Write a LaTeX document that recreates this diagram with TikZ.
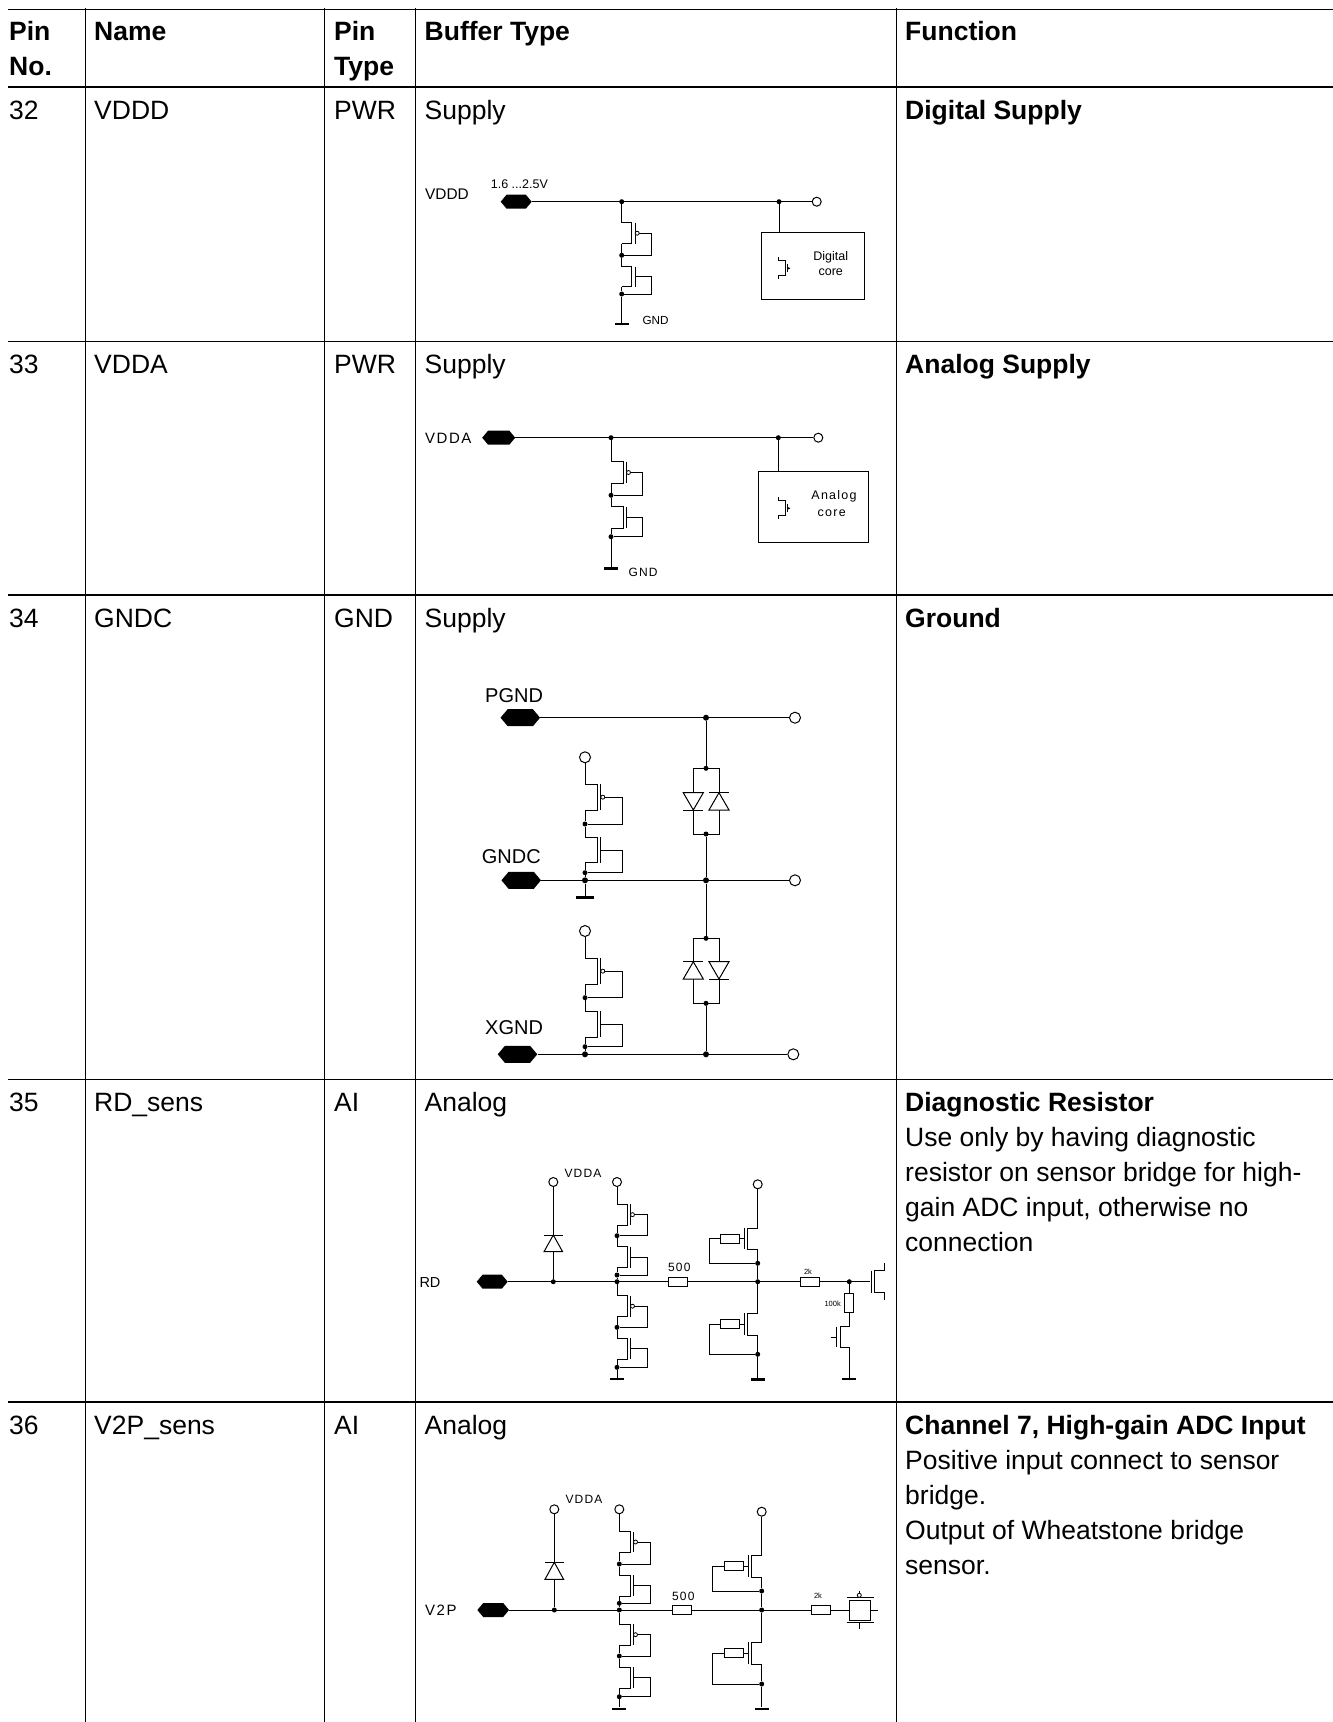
\documentclass[tikz,border=0pt]{standalone}
\usepackage{fontspec}
\setmainfont{Liberation Sans}
\newfontfamily\widefont[LetterSpace=10.0]{Liberation Sans}
\usetikzlibrary{shapes.symbols}
\tikzset{
  rule/.style={line width=1.4pt},
  wire/.style={line width=1pt},
  cell/.style={anchor=base west,inner sep=0pt,align=left,yshift=-0.8pt,font=\fontsize{26.5}{35}\selectfont},
  headcell/.style={cell,font=\fontsize{26.5}{35}\selectfont\bfseries},
  labbig/.style={anchor=base west,inner sep=0pt,font=\fontsize{20}{22}\selectfont},
  labmid/.style={anchor=base west,inner sep=0pt,font=\fontsize{15}{17}\widefont},
  labsmall/.style={anchor=base west,inner sep=0pt,font=\fontsize{12}{14}\widefont},
  labcore/.style={anchor=base,inner sep=0pt,font=\fontsize{12.5}{14}\selectfont},
  labtiny/.style={anchor=base,inner sep=0pt,font=\fontsize{7.5}{9}\selectfont},
  pad/.style={shape=signal,signal to=east and west,signal pointer angle=100,fill=black,inner sep=0pt,minimum height=14pt},
  open/.style={circle,draw,line width=1pt,fill=white,inner sep=0pt,minimum size=9pt},
  jdot/.style={circle,fill=black,inner sep=0pt,minimum size=5pt},
  bubble/.style={circle,draw,line width=0.8pt,fill=white,inner sep=0pt,minimum size=4pt},
  gbar/.style={fill=black,inner sep=0pt,minimum width=14pt,minimum height=2.4pt},
  res/.style={draw,line width=1pt,fill=white,inner sep=0pt,minimum width=19pt,minimum height=9pt},
  corebox/.style={draw,line width=1pt,inner sep=0pt},
}
\newcommand{\fw}{11}
\newcommand{\nfet}[6]{
  \coordinate (#1s) at (#2,#3);
  \coordinate (#1d) at (#2,#4);
  \draw[wire] (#1s) -- (#2+\fw,#3) -- (#2+\fw,#4) -- (#1d);
  \draw[wire] (#2+\fw+3.5,#3) -- (#2+\fw+3.5,#4);
  \node[jdot] (#1t) at (#2,#6) {};
  \draw[wire] (#2+\fw+3.5,{(#3+#4)/2}) -- (#5,{(#3+#4)/2}) -- (#5,#6) -- (#1t);
}
\newcommand{\pfet}[6]{
  \nfet{#1}{#2}{#3}{#4}{#5}{#6}
  \node[bubble] (#1b) at (#2+\fw+5.5,{(#3+#4)/2}) {};
}
\newcommand{\clampfet}[7]{
  \coordinate (#1s) at (#2,#3);
  \coordinate (#1d) at (#2,#4);
  \draw[wire] (#1s) -- (#2-10.4,#3) -- (#2-10.4,#4) -- (#1d);
  \draw[wire] (#2-13.4,#3) -- (#2-13.4,#4);
  \node[res] (#1r) at (#5,{(#3+#4)/2}) {};
  \node[jdot] (#1t) at (#2,#7) {};
  \draw[wire] (#2-13.4,{(#3+#4)/2}) -- (#1r);
  \draw[wire] (#1r) -- (#6,{(#3+#4)/2}) -- (#6,#7) -- (#1t);
}
\newcommand{\diode}[4]{
  \draw[wire,fill=white] (#1-#4,#2) -- (#1+#4,#2) -- (#1,#3) -- cycle;
  \draw[wire] (#1-#4,#3) -- (#1+#4,#3);
}
\newcommand{\corefet}[2]{
  \draw[wire] (#1,#2) -- (#1,#2+3.3) -- (#1+6.7,#2+3.3) -- (#1+6.7,#2+18) -- (#1,#2+18) -- (#1,#2+21.5);
  \draw[wire] (#1+9,#2+7) -- (#1+9,#2+15);
  \fill (#1+10.5,#2+11) circle[radius=1.2pt];
}
\begin{document}
\begin{tikzpicture}[x=1pt,y=-1pt]
\useasboundingbox (0,0) rectangle (1333,1722);
\draw[rule](8,9.3)--(1333,9.3);
\draw[rule](8,87)--(1333,87);
\draw[rule](8,341.5)--(1333,341.5);
\draw[rule](8,595)--(1333,595);
\draw[rule](8,1079.5)--(1333,1079.5);
\draw[rule](8,1402)--(1333,1402);
\draw[rule](85.5,8)--(85.5,1722);
\draw[rule](324.5,8)--(324.5,1722);
\draw[rule](415.5,8)--(415.5,1722);
\draw[rule](896.7,8)--(896.7,1722);
%
\node[headcell] (hpin) at (9,74.5) {Pin\\No.};
\node[headcell] (hname) at (94,39.5) {Name};
\node[headcell] (htype) at (334,74.5) {Pin\\Type};
\node[headcell] (hbuf) at (424.5,39.5) {Buffer Type};
\node[headcell] (hfun) at (905,39.5) {Function};
%
\node[cell] (pin32) at (9,118.5) {32};
\node[cell] (name32) at (94,118.5) {VDDD};
\node[cell] (type32) at (334,118.5) {PWR};
\node[cell] (buf32) at (424.5,118.5) {Supply};
\node[headcell] (fun32) at (905,118.5) {Digital Supply};
\node[cell] (pin33) at (9,373) {33};
\node[cell] (name33) at (94,373) {VDDA};
\node[cell] (type33) at (334,373) {PWR};
\node[cell] (buf33) at (424.5,373) {Supply};
\node[headcell] (fun33) at (905,373) {Analog Supply};
\node[cell] (pin34) at (9,626.5) {34};
\node[cell] (name34) at (94,626.5) {GNDC};
\node[cell] (type34) at (334,626.5) {GND};
\node[cell] (buf34) at (424.5,626.5) {Supply};
\node[headcell] (fun34) at (905,626.5) {Ground};
\node[cell] (pin35) at (9,1110.7) {35};
\node[cell] (name35) at (94,1110.7) {RD\_sens};
\node[cell] (type35) at (334,1110.7) {AI};
\node[cell] (buf35) at (424.5,1110.7) {Analog};
\node[headcell] (fun35) at (905,1110.7) {Diagnostic Resistor};
\node[cell] (txt35) at (905,1250.7) {Use only by having diagnostic\\resistor on sensor bridge for high-\\gain ADC input, otherwise no\\connection};
\node[cell] (pin36) at (9,1433.5) {36};
\node[cell] (name36) at (94,1433.5) {V2P\_sens};
\node[cell] (type36) at (334,1433.5) {AI};
\node[cell] (buf36) at (424.5,1433.5) {Analog};
\node[headcell] (fun36) at (905,1433.5) {Channel 7, High-gain ADC Input};
\node[cell] (txt36) at (905,1573.5) {Positive input connect to sensor\\bridge.\\Output of Wheatstone bridge\\sensor.};
%
\renewcommand{\fw}{10}
\node[labmid,font=\fontsize{15.4}{17}\selectfont] (laba) at (425,199.3) {VDDD};
\node[labcore,anchor=base west] (volta) at (490.7,188) {1.6 ...2.5V};
\node[pad,minimum width=31pt] (pada) at (516.2,201.7) {};
\node[open] (opa) at (816.7,201.7) {};
\node[jdot] (ja) at (621.7,201.7) {};
\node[jdot] (jb) at (779,201.7) {};
\draw[wire] (pada) -- (opa);
\pfet{pa}{621.7}{222.7}{243.7}{651.7}{255.3}
\nfet{na}{621.7}{266.7}{286.7}{651.7}{294}
\node[gbar] (ga) at (621.7,324) {};
\draw[wire] (ja) -- (pas);
\draw[wire] (pad) -- (pat) -- (nas);
\draw[wire] (nad) -- (nat) -- (ga);
\node[labsmall,font=\fontsize{11.7}{14}\selectfont] (gnda) at (642.3,324) {GND};
\node[corebox,minimum width=103pt,minimum height=66.7pt] (corea) at (812.5,265.7) {};
\draw[wire] (jb) -- (jb|-corea.north);
\corefet{778.3}{257.3}
\node[labcore] (diga) at (830.7,260.7) {Digital};
\node[labcore] (cora) at (830.7,275.7) {core};
%
\node[labmid] (labb) at (425,443.3) {VDDA};
\node[pad,minimum width=33pt] (padb) at (498.7,437.7) {};
\node[open] (opb) at (818.3,437.7) {};
\node[jdot] (jc) at (611,437.7) {};
\node[jdot] (jd) at (778.3,437.7) {};
\draw[wire] (padb) -- (opb);
\renewcommand{\fw}{12}
\pfet{pb}{611}{461.7}{483.3}{642.7}{495.3}
\nfet{nb}{611}{506.7}{528.3}{642.7}{536.7}
\node[gbar] (gb) at (611,568.3) {};
\draw[wire] (jc) -- (pbs);
\draw[wire] (pbd) -- (pbt) -- (nbs);
\draw[wire] (nbd) -- (nbt) -- (gb);
\node[labsmall] (gndb) at (628.3,576) {GND};
\node[corebox,minimum width=109.3pt,minimum height=71pt] (coreb) at (813.6,506.8) {};
\draw[wire] (jd) -- (jd|-coreb.north);
\corefet{778.3}{497.3}
\node[labcore,font=\fontsize{12.5}{14}\widefont] (anab) at (834,499.3) {Analog};
\node[labcore,font=\fontsize{12.5}{14}\widefont] (corb) at (831.7,516.7) {core};
%
\tikzset{open/.append style={minimum size=11pt}}
\renewcommand{\fw}{12.3}
\node[labbig] (labc) at (485,702.7) {PGND};
\node[pad,minimum width=39.5pt,minimum height=17pt] (padc) at (520.3,717.7) {};
\node[open] (opc) at (795,717.7) {};
\node[jdot,minimum size=6pt] (je) at (706,717.7) {};
\draw[wire] (padc) -- (opc);
\node[jdot] (jf) at (706,768.3) {};
\node[jdot] (jg) at (706,834) {};
\draw[wire] (je) -- (jf);
\draw[wire] (693.3,768.3) rectangle (719,834);
\diode{693.3}{792.7}{810}{10}
\diode{719}{810}{792.7}{10}
%
\node[labbig] (labd) at (481.7,863.3) {GNDC};
\node[pad,minimum width=39.5pt,minimum height=17pt] (padd) at (521.2,880.3) {};
\node[open] (opd) at (795,880.3) {};
\node[jdot,minimum size=6pt] (jh) at (585,880.3) {};
\node[jdot,minimum size=6pt] (ji) at (706,880.3) {};
\draw[wire] (padd) -- (opd);
\draw[wire] (jg) -- (ji);
\node[open] (ope) at (585,757.3) {};
\pfet{pc}{585}{784.3}{810}{622.7}{824}
\nfet{nc}{585}{837.3}{862.7}{622.7}{872.7}
\node[gbar,minimum width=18pt] (gc) at (585,897.3) {};
\draw[wire] (ope) -- (pcs);
\draw[wire] (pcd) -- (pct) -- (ncs);
\draw[wire] (ncd) -- (nct) -- (jh) -- (gc);
%
\node[labbig] (labe) at (485,1034) {XGND};
\node[pad,minimum width=39.5pt,minimum height=17pt] (pade) at (517.5,1054.3) {};
\node[open] (opf) at (793.3,1054.3) {};
\node[jdot,minimum size=6pt] (jj) at (585,1054.3) {};
\node[jdot,minimum size=6pt] (jk) at (706,1054.3) {};
\draw[wire] (pade) -- (opf);
\node[jdot] (jl) at (706,938.3) {};
\node[jdot] (jm) at (706,1003.3) {};
\draw[wire] (ji) -- (jl);
\draw[wire] (jm) -- (jk);
\draw[wire] (693.3,938.3) rectangle (719,1003.3);
\diode{693.3}{979}{961.7}{10}
\diode{719}{961.7}{979}{10}
\node[open] (opg) at (585,931) {};
\pfet{pd}{585}{958.3}{984}{622.7}{997.7}
\nfet{nd}{585}{1011}{1037.3}{622.7}{1046.7}
\draw[wire] (opg) -- (pds);
\draw[wire] (pdd) -- (pdt) -- (nds);
\draw[wire] (ndd) -- (ndt) -- (jj);
%
\tikzset{open/.append style={minimum size=9pt}}
\renewcommand{\fw}{10}
\node[labmid,font=\fontsize{14.5}{17}\selectfont] (labf) at (419.3,1287.3) {RD};
\node[pad,minimum width=31pt] (padf) at (492.2,1281.7) {};
\node[jdot] (jn) at (553.3,1281.7) {};
\node[jdot] (jo) at (617,1281.7) {};
\node[jdot] (jp) at (757.7,1281.7) {};
\node[jdot] (jq) at (849.3,1281.7) {};
\node[open] (oph) at (553.3,1182) {};
\draw[wire] (oph) -- (jn);
\diode{553.3}{1251.7}{1235}{9.3}
\node[labsmall] (vdf) at (564.3,1177.7) {VDDA};
\node[open] (opi) at (617,1182) {};
\pfet{pe}{617}{1204.3}{1225}{647.7}{1235.7}
\nfet{ne}{617}{1246.7}{1267.7}{647.7}{1275}
\pfet{pf}{617}{1295.7}{1316.7}{647.7}{1327.3}
\nfet{nf}{617}{1338.3}{1359.3}{647.7}{1367.3}
\node[gbar] (gd) at (617,1379) {};
\draw[wire] (opi) -- (pes);
\draw[wire] (ped) -- (pet) -- (nes);
\draw[wire] (ned) -- (net) -- (jo) -- (pfs);
\draw[wire] (pfd) -- (pft) -- (nfs);
\draw[wire] (nfd) -- (nft) -- (gd);
\node[res] (rf) at (678.2,1281.7) {};
\node[res] (rg) at (810,1281.7) {};
\coordinate (gtf) at (870,1281.7);
\draw[wire] (padf) -- (rf) -- (rg) -- (gtf);
\node[labsmall,anchor=base] (vf) at (679.3,1271.7) {500};
\node[labtiny] (kf) at (808,1274) {2k};
\node[open] (opj) at (757.7,1184.3) {};
\clampfet{ce}{757.7}{1228.3}{1249}{730}{709}{1263.3}
\clampfet{cf}{757.7}{1313.3}{1335}{730}{709}{1354.3}
\node[gbar] (ge) at (757.7,1379.3) {};
\draw[wire] (opj) -- (ces);
\draw[wire] (ced) -- (cet) -- (jp) -- (cfs);
\draw[wire] (cfd) -- (cft) -- (ge);
\draw[wire] (884,1263.3) -- (884,1270.7) -- (874.3,1270.7) -- (874.3,1292.7) -- (884,1292.7) -- (884,1300);
\draw[wire] (871,1270.7) -- (871,1292.7);
\node[res,minimum width=9.3pt,minimum height=18.7pt] (rh) at (849.3,1303.3) {};
\node[labtiny] (kh) at (832.7,1306.7) {100k};
\node[gbar] (gf) at (849.3,1379) {};
\draw[wire] (jq) -- (rh);
\draw[wire] (rh) -- (849.3,1326.7) -- (840,1326.7) -- (840,1347.3) -- (849.3,1347.3) -- (gf);
\draw[wire] (836.7,1326.7) -- (836.7,1347.3);
\draw[wire] (830.7,1337.3) -- (836.7,1337.3);
%
\renewcommand{\fw}{10.7}
\node[labmid] (labg) at (425,1615) {V2P};
\node[pad,minimum width=31.7pt] (padg) at (493.2,1610) {};
\node[jdot] (jr) at (554.3,1610) {};
\node[jdot] (js) at (619.3,1610) {};
\node[jdot] (jt) at (761.7,1610) {};
\node[open] (opk) at (554.3,1509.3) {};
\draw[wire] (opk) -- (jr);
\diode{554.3}{1579.3}{1562.3}{9.3}
\node[labsmall] (vdg) at (565.3,1503.3) {VDDA};
\node[open] (opl) at (619.3,1509.3) {};
\pfet{pg}{619.3}{1531.7}{1552.3}{650.3}{1564}
\nfet{ng}{619.3}{1575}{1596}{650.3}{1603.3}
\pfet{ph}{619.3}{1624.3}{1645}{650.3}{1656}
\nfet{nh}{619.3}{1667.3}{1688.3}{650.3}{1696.7}
\node[gbar] (gg) at (619.3,1708.7) {};
\draw[wire] (opl) -- (pgs);
\draw[wire] (pgd) -- (pgt) -- (ngs);
\draw[wire] (ngd) -- (ngt) -- (js) -- (phs);
\draw[wire] (phd) -- (pht) -- (nhs);
\draw[wire] (nhd) -- (nht) -- (gg);
\node[res] (ri) at (681.7,1610) {};
\node[res] (rj) at (821.2,1610) {};
\node[draw,line width=1pt,inner sep=0pt,minimum width=21.4pt,minimum height=20pt] (sens) at (860,1610.7) {};
\coordinate (outg) at (878.3,1610);
\draw[wire] (padg) -- (ri) -- (rj) -- (sens.west|-rj);
\draw[wire] (sens.east|-outg) -- (outg);
\node[labsmall,anchor=base] (vg) at (683.3,1600.7) {500};
\node[labtiny] (kg) at (818,1598.3) {2k};
\node[open] (opm) at (761.7,1511.7) {};
\clampfet{cg}{761.7}{1555}{1577.3}{733.8}{712.7}{1591}
\clampfet{ch}{761.7}{1642.3}{1664.3}{733.8}{712.7}{1684}
\node[gbar] (gh) at (761.7,1708.7) {};
\draw[wire] (opm) -- (cgs);
\draw[wire] (cgd) -- (cgt) -- (jt) -- (chs);
\draw[wire] (chd) -- (cht) -- (gh);
\draw[wire] (846.7,1597.3) -- (874,1597.3);
\draw[wire] (846.7,1622.7) -- (874,1622.7);
\draw[wire] (859.3,1622.7) -- (859.3,1629.3);
\node[bubble] (tapg) at (859.3,1595.3) {};
\draw[wire] (859.3,1590.5) -- (tapg);
\end{tikzpicture}
\end{document}
